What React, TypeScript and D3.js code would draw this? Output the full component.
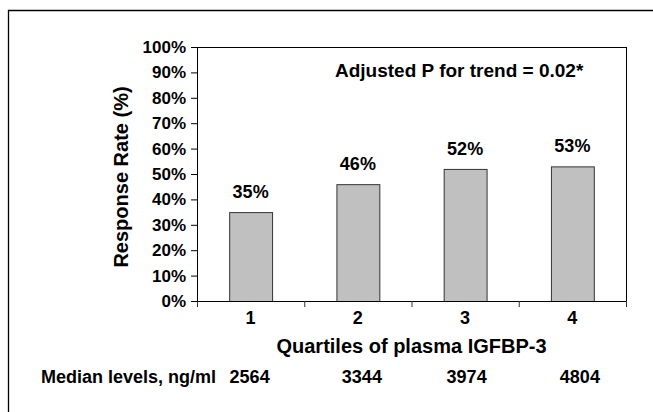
import React, { useEffect, useRef } from 'react';
import * as d3 from 'd3';

const quartiles = ['1', '2', '3', '4'];
const responseRates = [35, 46, 52, 53];
const medianLevels = ['2564', '3344', '3974', '4804'];
const yTicks = [0, 10, 20, 30, 40, 50, 60, 70, 80, 90, 100];

const yTitle = 'Response Rate (%)';
const xTitle = 'Quartiles of plasma IGFBP-3';
const medianTitle = 'Median levels, ng/ml';
const trendNote = 'Adjusted P for trend = 0.02*';

// the median numbers sit a little off the bar centres in the original
const medianNudge = [-1, 4, 1.5, 7.5];

const W = 653;
const H = 412;
const margin = { top: 47, right: 27, bottom: 111, left: 197 };
const FONT = 'Liberation Sans, Arial, Helvetica, sans-serif';

export default function App() {
  const svgRef = useRef<SVGSVGElement>(null);

  useEffect(() => {
    if (!svgRef.current) return;
    const svg = d3.select(svgRef.current);
    svg.selectAll('*').remove();

    const innerW = W - margin.left - margin.right;
    const innerH = H - margin.top - margin.bottom;

    // outer frame: only the top and left edges show in the crop
    svg.append('path')
      .attr('d', `M8.5,${H} V10.5 H${W}`)
      .attr('fill', 'none')
      .attr('stroke', '#000').attr('stroke-width', 1.3);

    const g = svg.append('g')
      .attr('transform', `translate(${margin.left},${margin.top})`);

    const x = d3.scaleBand<string>()
      .domain(quartiles)
      .range([0, innerW])
      .paddingInner(0.6)
      .paddingOuter(0.3);

    const xEdge = d3.scaleLinear().domain([0, quartiles.length]).range([0, innerW]);

    const y = d3.scaleLinear().domain([0, 100]).range([innerH, 0]);

    // plot area border
    g.append('rect')
      .attr('x', 0.5).attr('y', 0.5)
      .attr('width', innerW).attr('height', innerH)
      .attr('fill', 'none')
      .attr('stroke', '#000').attr('stroke-width', 1);

    // bars
    g.selectAll('.bar')
      .data(responseRates)
      .join('rect')
      .attr('class', 'bar')
      .attr('x', (_, i) => x(quartiles[i])! + 0.5)
      .attr('y', d => y(d) + 0.5)
      .attr('width', x.bandwidth())
      .attr('height', d => innerH - y(d))
      .attr('fill', '#c0c0c0')
      .attr('stroke', '#333')
      .attr('stroke-width', 1);

    // bar labels
    g.selectAll('.barLabel')
      .data(responseRates)
      .join('text')
      .attr('x', (_, i) => x(quartiles[i])! + x.bandwidth() / 2)
      .attr('y', d => y(d) - 14)
      .attr('text-anchor', 'middle')
      .attr('font-family', FONT)
      .attr('font-weight', 'bold')
      .attr('font-size', 18)
      .text(d => `${d}%`);

    // y axis
    const yAxis = g.append('g')
      .call(d3.axisLeft(y).tickValues(yTicks).tickSize(6).tickPadding(5).tickFormat(d => `${d}%`));
    yAxis.select('.domain').attr('stroke', '#000');
    yAxis.selectAll('.tick line').attr('stroke', '#000');
    yAxis.selectAll('.tick text')
      .attr('font-family', FONT)
      .attr('font-weight', 'bold')
      .attr('font-size', 17)
      .attr('fill', '#000');

    // x axis: ticks sit on the category boundaries
    const xAxisG = g.append('g').attr('transform', `translate(0,${innerH})`);
    xAxisG.append('line')
      .attr('x1', 0).attr('x2', innerW)
      .attr('y1', 0.5).attr('y2', 0.5)
      .attr('stroke', '#000');
    xAxisG.selectAll('.xtick')
      .data(d3.range(quartiles.length + 1))
      .join('line')
      .attr('x1', d => xEdge(d) + 0.5).attr('x2', d => xEdge(d) + 0.5)
      .attr('y1', 0).attr('y2', 6)
      .attr('stroke', '#333');
    xAxisG.selectAll('.xlabel')
      .data(quartiles)
      .join('text')
      .attr('x', d => x(d)! + x.bandwidth() / 2)
      .attr('y', 23)
      .attr('text-anchor', 'middle')
      .attr('font-family', FONT)
      .attr('font-weight', 'bold')
      .attr('font-size', 18)
      .text(d => d);

    // axis titles
    g.append('text')
      .attr('x', innerW / 2)
      .attr('y', innerH + 52)
      .attr('text-anchor', 'middle')
      .attr('font-family', FONT)
      .attr('font-weight', 'bold')
      .attr('font-size', 20)
      .text(xTitle);

    g.append('text')
      .attr('transform', `translate(${128 - margin.left},${177 - margin.top}) rotate(-90)`)
      .attr('text-anchor', 'middle')
      .attr('font-family', FONT)
      .attr('font-weight', 'bold')
      .attr('font-size', 20)
      .text(yTitle);

    // median levels row
    svg.append('text')
      .attr('x', 41)
      .attr('y', 383)
      .attr('font-family', FONT)
      .attr('font-weight', 'bold')
      .attr('font-size', 18)
      .text(medianTitle);

    g.selectAll('.median')
      .data(medianLevels)
      .join('text')
      .attr('x', (_, i) => x(quartiles[i])! + x.bandwidth() / 2 + medianNudge[i])
      .attr('y', 383 - margin.top)
      .attr('text-anchor', 'middle')
      .attr('font-family', FONT)
      .attr('font-weight', 'bold')
      .attr('font-size', 18)
      .text(d => d);

    // trend annotation
    svg.append('text')
      .attr('x', 335)
      .attr('y', 77)
      .attr('font-family', FONT)
      .attr('font-weight', 'bold')
      .attr('font-size', 19)
      .text(trendNote);
  }, []);

  return (
    <svg
      ref={svgRef}
      width={W}
      height={H}
      style={{ position: 'absolute', left: 0, top: 0, display: 'block', background: 'white', overflow: 'hidden' }}
    />
  );
}
